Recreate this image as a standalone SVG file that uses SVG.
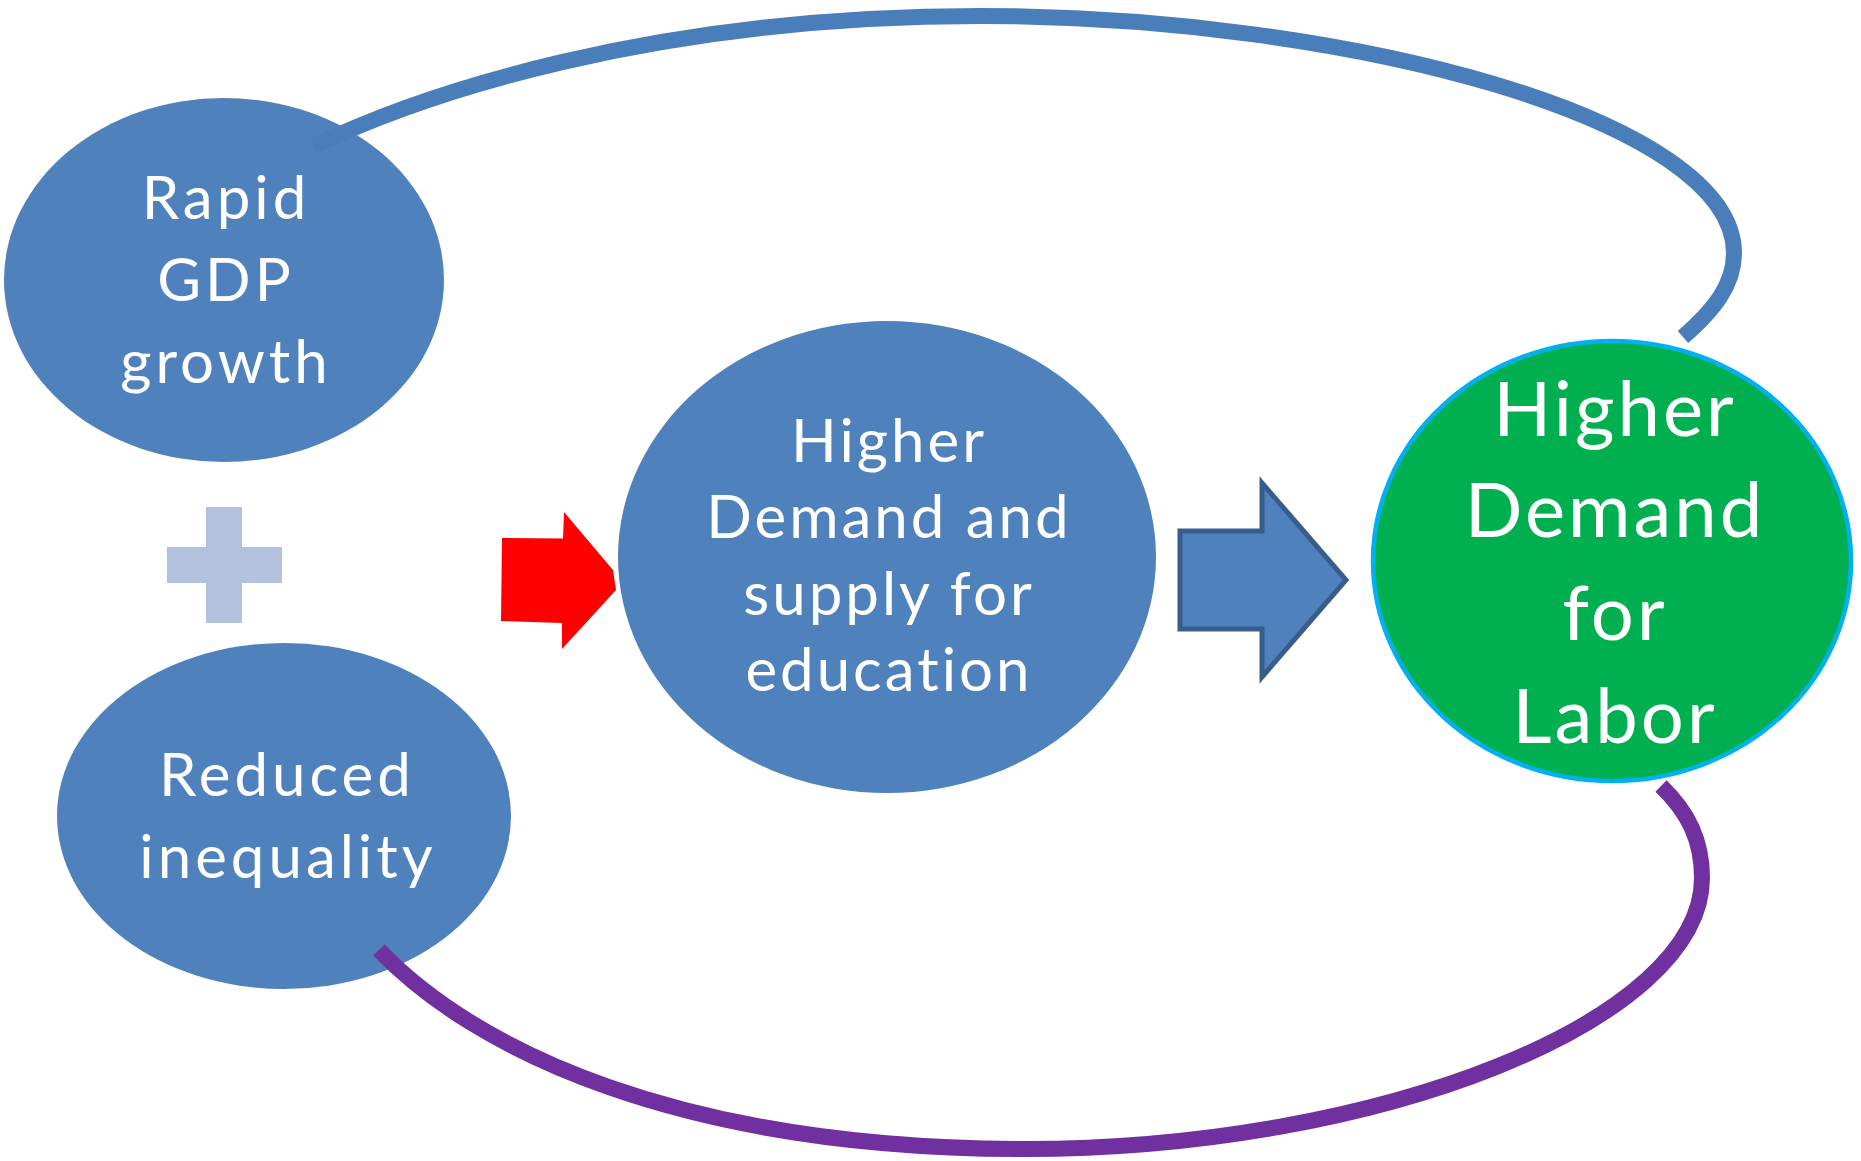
<svg xmlns="http://www.w3.org/2000/svg" width="1861" height="1161" viewBox="0 0 1861 1161">
<style>
.node{fill:#4F81BD}
.lbl{font-family:Lato,"Open Sans","Liberation Sans",sans-serif;fill:#FFFFFF;text-anchor:middle;font-size:60px;letter-spacing:4px;font-variant-ligatures:none}
.mid{letter-spacing:3px}
.big{font-size:76px;letter-spacing:3px}
.arc{fill:none;stroke-width:16;stroke-linecap:butt}
</style>
<rect width="1861" height="1161" fill="#FFFFFF"/>
<g id="node-rapid-gdp">
<ellipse class="node" cx="224" cy="280" rx="220" ry="182"/>
<text class="lbl" x="226" y="219">Rapid</text>
<text class="lbl" x="226" y="301">GDP</text>
<text class="lbl" x="226" y="383">growth</text>
</g>
<g id="node-plus">
<rect x="206" y="507" width="36" height="116" fill="#B2C1DC"/>
<rect x="167" y="547" width="115" height="36" fill="#B2C1DC"/>
</g>
<g id="node-reduced-inequality">
<ellipse class="node" cx="284" cy="816" rx="227" ry="173"/>
<text class="lbl" x="287" y="796">Reduced</text>
<text class="lbl" x="288" y="878">inequality</text>
</g>
<g id="node-red-arrow">
<polygon points="502,538 563,538.5 564,512 613,570 616,590 562,649 562,623 501,621" fill="#FF0000"/>
</g>
<g id="node-education">
<ellipse class="node" cx="887" cy="557" rx="269" ry="236"/>
<text class="lbl mid" x="889" y="462">Higher</text>
<text class="lbl mid" x="889" y="538">Demand and</text>
<text class="lbl mid" x="889" y="615">supply for</text>
<text class="lbl mid" x="889" y="691">education</text>
</g>
<g id="node-blue-arrow">
<polygon points="1180,531 1262,531 1262,483 1346,580 1262,677 1262,629 1180,629" fill="#4F81BD" stroke="#385D8A" stroke-width="5"/>
</g>
<g id="node-labor">
<ellipse cx="1612" cy="561" rx="239" ry="220" fill="#00B050" stroke="#00B0F0" stroke-width="4.5"/>
<text class="lbl big" x="1615" y="436">Higher</text>
<text class="lbl big" x="1615" y="537">Demand</text>
<text class="lbl big" x="1615" y="640">for</text>
<text class="lbl big" x="1615" y="743">Labor</text>
</g>
<g id="connectors">
<path class="arc" stroke="#4A7EBB" d="M314,146 C420,95 650,16 980,16 C1350,16 1734,120 1734,253 C1734,285 1714,310 1683,337"/>
<path class="arc" stroke="#7030A0" d="M379,950 C475,1050 680,1149 1025,1149 C1380,1149 1702,1020 1702,878 C1702,840 1688,812 1661,786"/>
</g>
</svg>
